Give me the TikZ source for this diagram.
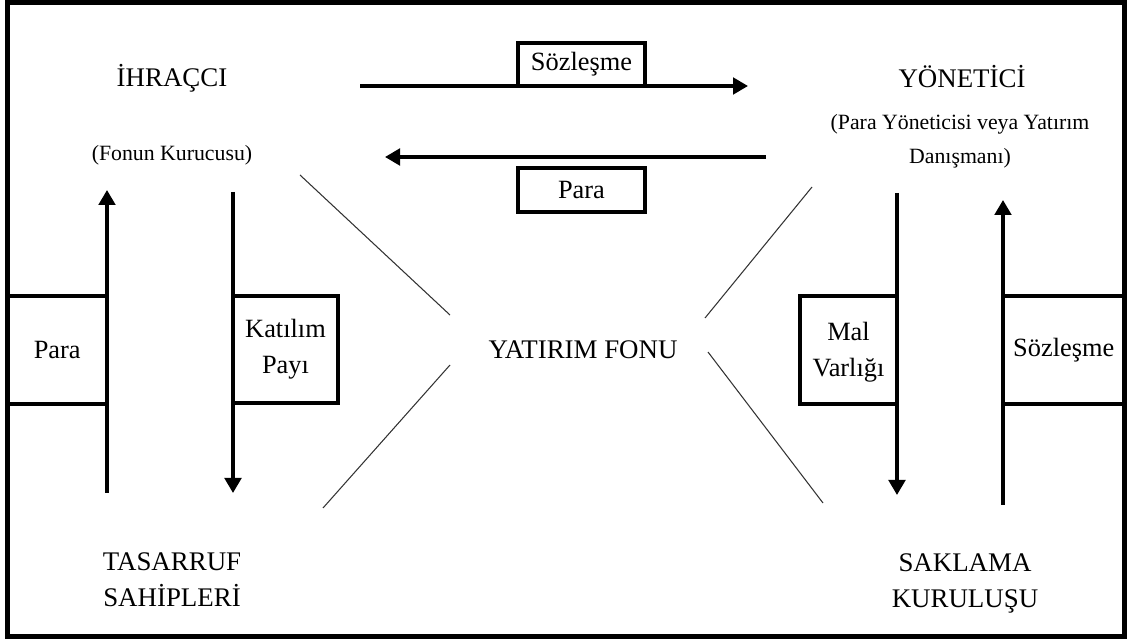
\documentclass[tikz,border=0pt]{standalone}
\usepackage{fontspec}
\setmainfont{Liberation Serif}
\usetikzlibrary{arrows.meta}
\usetikzlibrary{positioning}

\begin{document}
\begin{tikzpicture}[x=0.2mm,y=-0.2mm,>={Triangle[length=3mm,width=3.3mm]},
  flow/.style={->,line width=2pt},
  link/.style={line width=0.6pt,draw=black!80},
  actor/.style={align=center,font=\fontsize{15.3}{20.5}\selectfont},
  note/.style={align=center,font=\fontsize{12.4}{19.4}\selectfont},
  flow box/.style={draw,line width=2pt,rectangle,align=center,inner sep=0pt,
    font=\fontsize{15}{20.5}\selectfont}]

  \useasboundingbox (0,0) rectangle (1128,639);
  \draw[line width=2.6pt] (7.5,2.5) rectangle (1124.5,636.5);

  % parties
  \node[actor] (ihr) at (172,78) {İHRAÇCI};
  \node[note]  (kur) at (172,155) {(Fonun Kurucusu)};
  \node[actor] (yon) at (962,77) {YÖNETİCİ};
  \node[note]  (yond) at (960,141) {(Para Yöneticisi veya Yatırım\\Danışmanı)};
  \node[actor] (tas) at (172,580) {TASARRUF\\SAHİPLERİ};
  \node[actor] (sak) at (965,583) {SAKLAMA\\KURULUŞU};
  \node[actor] (fon) at (583,350) {YATIRIM FONU};

  % arrow ends
  \coordinate (s1) at (360,86);   \coordinate (s2) at (748,86);
  \coordinate (p1) at (766,157);  \coordinate (p2) at (385,157);
  \coordinate (lu1) at (107,493); \coordinate (lu2) at (107,190);
  \coordinate (ld1) at (233,192); \coordinate (ld2) at (233,493);
  \coordinate (rd1) at (897,193); \coordinate (rd2) at (897,495);
  \coordinate (ru1) at (1003,505); \coordinate (ru2) at (1003,200);

  \draw[flow] (s1) -- (s2);
  \draw[flow] (p1) -- (p2);
  \draw[flow] (lu1) -- (lu2);
  \draw[flow] (ld1) -- (ld2);
  \draw[flow] (rd1) -- (rd2);
  \draw[flow] (ru1) -- (ru2);

  % labels on the flows
  \node[flow box,minimum width=25.4mm,minimum height=8.6mm] (soz1) at (581.5,64.5) {Sözleşme};
  \node[flow box,minimum width=25.4mm,minimum height=8.8mm] (para1) at (581.5,190) {Para};
  \node[flow box,minimum width=19.9mm,minimum height=21.6mm] (para2) at (57.25,350) {Para};
  \node[flow box,minimum width=21mm,minimum height=21.4mm] (kat) at (285.5,349.5) {Katılım\\Payı};
  \node[flow box,minimum width=19.4mm,minimum height=21.6mm] (mal) at (848.5,350) {};
  \node[align=center,font=\fontsize{15}{20.5}\selectfont] (malt) at (848.5,352.5) {Mal\\Varlığı};
  \node[flow box,minimum width=24.3mm,minimum height=21.6mm] (soz2) at (1063.75,350) {Sözleşme};

  % lines to the fund
  \coordinate (a1) at (300,175); \coordinate (a2) at (450,315);
  \coordinate (b1) at (323,508); \coordinate (b2) at (450,365);
  \coordinate (c1) at (812,187); \coordinate (c2) at (705,318);
  \coordinate (d1) at (823,503); \coordinate (d2) at (708,352);
  \draw[link] (a1) -- (a2);
  \draw[link] (b1) -- (b2);
  \draw[link] (c1) -- (c2);
  \draw[link] (d1) -- (d2);
\end{tikzpicture}
\end{document}
